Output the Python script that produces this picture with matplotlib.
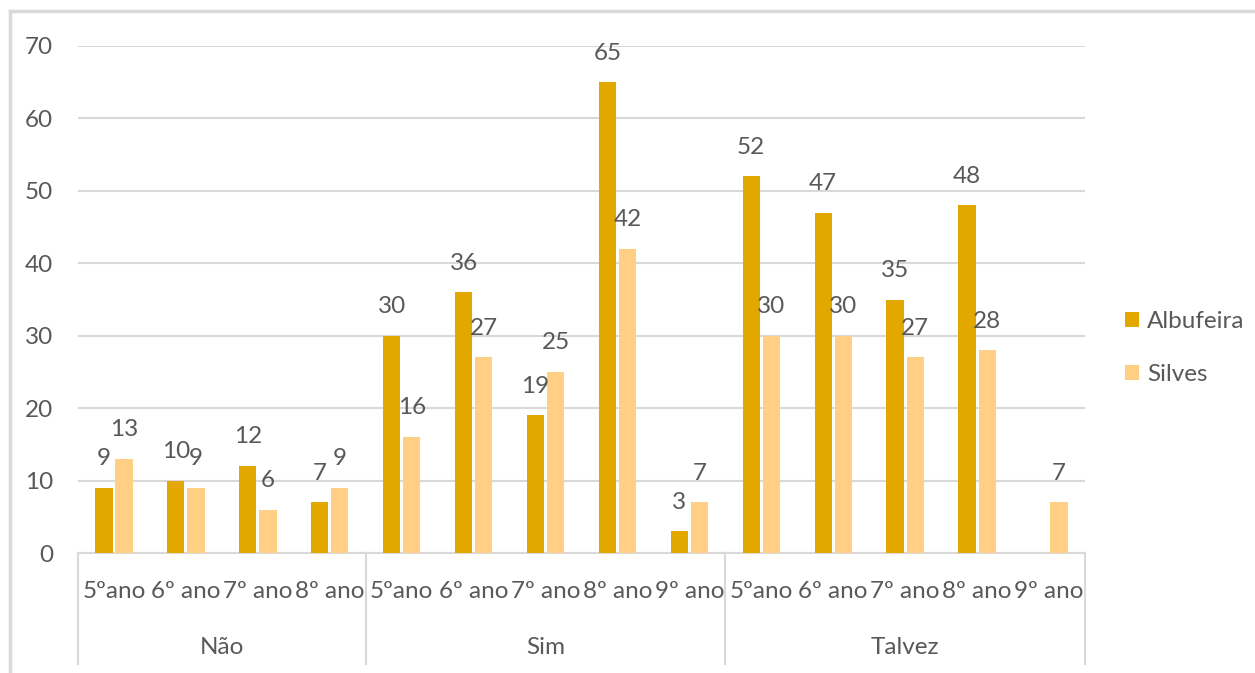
import numpy as np
import matplotlib
matplotlib.use("Agg")
import matplotlib.pyplot as plt
from matplotlib.lines import Line2D

plt.rcParams['font.family'] = ['Lato', 'DejaVu Sans']

groups = ["Não", "Sim", "Talvez"]
group_categories = [
    ["5ºano", "6º ano", "7º ano", "8º ano"],
    ["5ºano", "6º ano", "7º ano", "8º ano", "9º ano"],
    ["5ºano", "6º ano", "7º ano", "8º ano", "9º ano"],
]
albufeira = [9, 10, 12, 7, 30, 36, 19, 65, 3, 52, 47, 35, 48, np.nan]
silves = [13, 9, 6, 9, 16, 27, 25, 42, 7, 30, 30, 27, 28, 7]
series_names = ["Albufeira", "Silves"]

col_a = "#E2A800"
col_s = "#FFD083"
txt = "#595959"
grid = "#D9D9D9"
fs = 17.5

fig = plt.figure(figsize=(12.55, 6.73), dpi=100)
ax = fig.add_axes([78/1255, 1-553/673, (1085-78)/1255, (553-46)/673])

labels = [c for g in group_categories for c in g]
n = len(labels)
x = np.arange(n)
w = 0.24
gap = 0.02
ba = ax.bar(x - w/2 - gap, albufeira, w, color=col_a, label=series_names[0], zorder=3)
bs = ax.bar(x + w/2 + gap, silves, w, color=col_s, label=series_names[1], zorder=3)

for bars, vals in ((ba, albufeira), (bs, silves)):
    for b, v in zip(bars, vals):
        if np.isnan(v):
            continue
        ax.annotate(f"{int(v)}", (b.get_x() + b.get_width()/2, v),
                    xytext=(0, 21), textcoords="offset points",
                    ha="center", va="center", fontsize=fs, color=txt)

ax.set_xlim(-0.5, n - 0.5)
ax.set_ylim(0, 70)
ax.set_yticks(range(0, 71, 10))
ax.yaxis.grid(True, color=grid, linewidth=1.5, zorder=0)
ax.set_axisbelow(True)
for s in ("top", "right", "left"):
    ax.spines[s].set_visible(False)
ax.spines["bottom"].set_color(grid)
ax.spines["bottom"].set_linewidth(1.5)
ax.tick_params(axis="y", length=0, labelsize=fs, labelcolor=txt, pad=18)
ax.set_xticks(x)
ax.set_xticklabels(labels)
ax.tick_params(axis="x", length=0, labelsize=fs, labelcolor=txt, pad=20)

# group separators and labels
trans = ax.get_xaxis_transform()
bottom_y = -(664 - 553) / (553 - 46)
start = 0
bounds = [-0.5]
for g, cats in zip(groups, group_categories):
    end = start + len(cats)
    bounds.append(end - 0.5)
    ax.text((start + end - 1) / 2, -(647 - 553) / (553 - 46), g, transform=trans,
            ha="center", va="center", fontsize=fs, color=txt)
    start = end
for b in bounds:
    ax.add_line(Line2D([b, b], [0, bottom_y], transform=trans, color=grid,
                       linewidth=1.5, clip_on=False))

fig.legend(handles=[ba, bs], labels=series_names, loc="center left",
           bbox_to_anchor=(1103/1255, 1-348/673), frameon=False,
           handlelength=0.6, handleheight=0.6, handletextpad=0.3,
           labelspacing=1.3, fontsize=fs, labelcolor=txt)

# outer border (top and left)
fig.add_artist(Line2D([10/1255, 1], [1-11/673, 1-11/673], color=grid, linewidth=2.5,
                      transform=fig.transFigure))
fig.add_artist(Line2D([10/1255, 10/1255], [0, 1-11/673], color=grid, linewidth=2.5,
                      transform=fig.transFigure))

fig.savefig("out.png", dpi=100)
